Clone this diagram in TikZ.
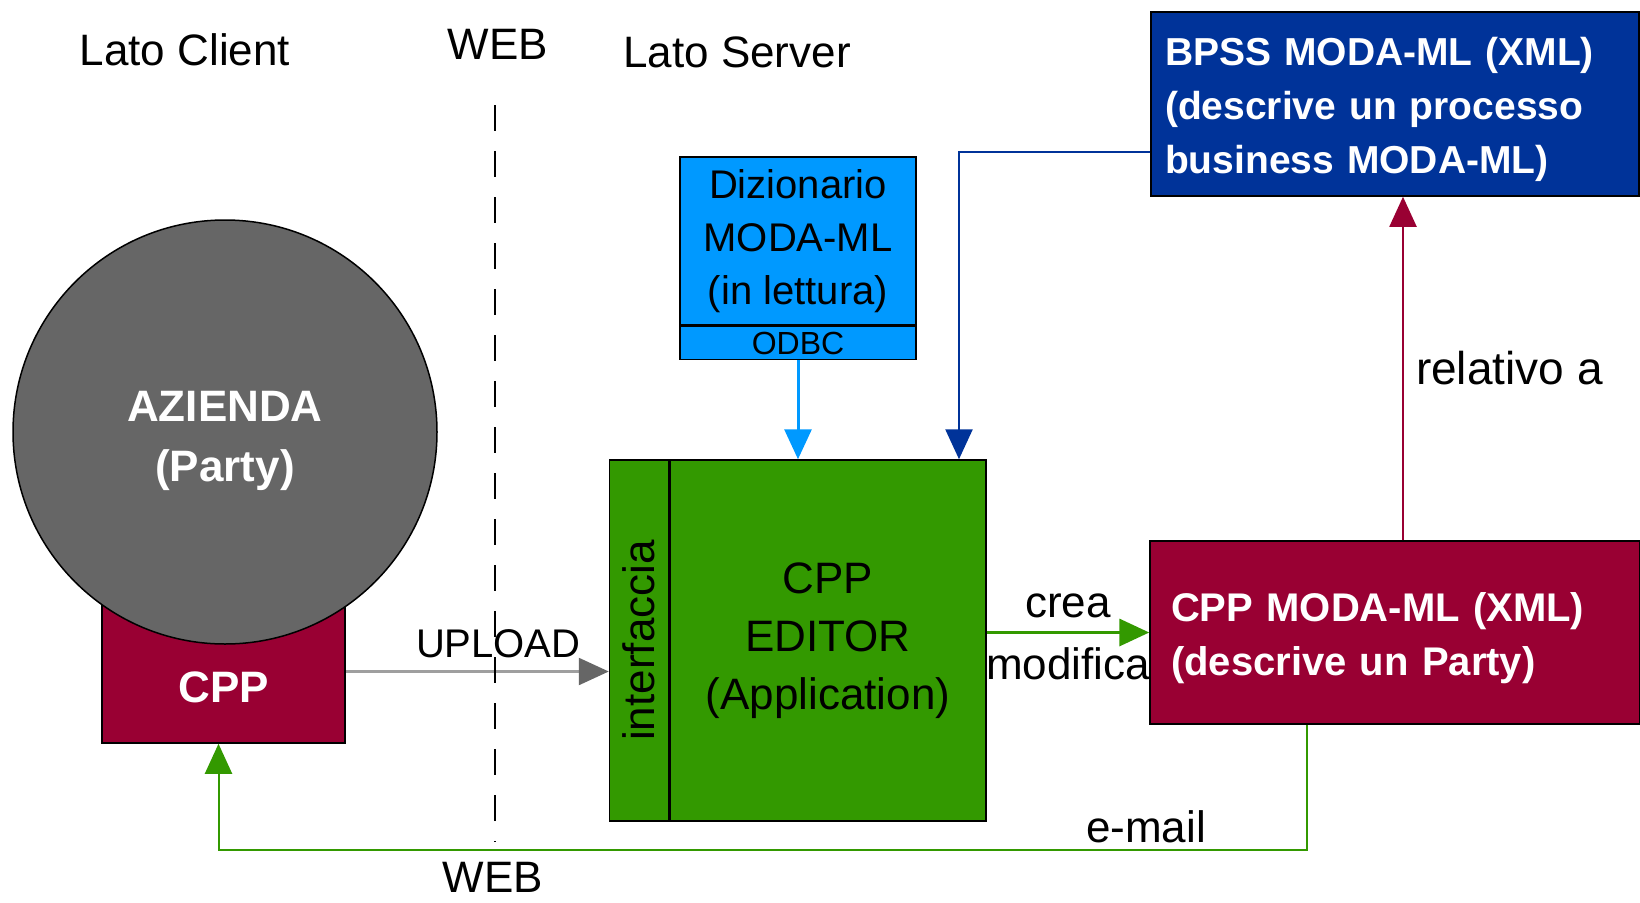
\documentclass[tikz,border=0pt]{standalone}
\usepackage{fontspec}
\setmainfont{Liberation Sans}
\usepackage{xcolor}
\usepackage{tikz}
\usetikzlibrary{positioning,calc,arrows.meta}
\definecolor{MLRed}{RGB}{153,0,51}
\definecolor{MLGreen}{RGB}{51,153,0}
\definecolor{MLBlue}{RGB}{0,51,153}
\definecolor{MLCyan}{RGB}{0,153,255}
\definecolor{MLGray}{RGB}{102,102,102}
\tikzset{
    boxnode/.style={rectangle, draw=black, line width=1.5pt, inner sep=0pt, align=center},
    whitetext/.style={text=white, font=\fontsize{44}{60}\selectfont\bfseries},
    plaintext/.style={text=black, font=\fontsize{44}{53}\selectfont, inner sep=2pt},
    link/.style={line width=2.5pt, -{Triangle[length=30pt,width=27pt]}}
}
\begin{document}
\begin{tikzpicture}[
        x=1pt, y=-1pt,
        % Stile per la linea WEB: tratteggiata, nera
        webline/.style={
            draw=black,
            line width=2pt,
            dash pattern=on 26pt off 20pt
        },
        % Stile per i riquadri a destra: testo bianco allineato a sinistra
        xmlbox/.style={
            boxnode,
            align=left,
            text=white
        }
    ]
    \useasboundingbox (0,0) rectangle (1640,902);
    \fill[white] (0,0) rectangle (1640,902);

        % --- TITOLI ---
        \node[plaintext] (client) at (185,50) {Lato Client};
        \node[plaintext] (webtop) at (498,44) {WEB};
        \node[plaintext] (server) at (737,52) {Lato Server};
        \node[plaintext] (webbot) at (493,877) {WEB};

        % --- LATO CLIENT ---
        % CPP (sotto il cerchio)
        \node[boxnode, fill=MLRed, minimum width=243pt, minimum height=143pt] (cpp) at (223.5,671.5) {};
        \node[whitetext] (cpptext) at ([yshift=-16pt]cpp.center) {CPP};
        % Azienda
        \node[circle, draw=black, line width=1.5pt, fill=MLGray, minimum size=424pt, whitetext, align=center] (azienda) at (225,432) {\rule{0pt}{48pt}AZIENDA\\(Party)};

        % --- LATO SERVER ---
        % Dizionario
        \node[boxnode, fill=MLCyan, minimum width=236pt, minimum height=168pt, font=\fontsize{40}{53}\selectfont] (diz) at (798,241) {Dizionario\\MODA-ML\\(in lettura)};
        \node[boxnode, fill=MLCyan, minimum width=236pt, minimum height=33pt, font=\fontsize{32}{32}\selectfont, below=0pt of diz] (odbc) {ODBC};
        % Editor
        \node[boxnode, fill=MLGreen, minimum width=316pt, minimum height=361pt, font=\fontsize{44}{58}\selectfont] (editor) at (828,640.5) {CPP\\EDITOR\\(Application)};
        \node[boxnode, fill=MLGreen, minimum width=59pt, minimum height=361pt, font=\fontsize{44}{53}\selectfont, left=0pt of editor] (intf) {\rotatebox{90}{interfaccia}};
        % Documenti XML
        \node[xmlbox, fill=MLBlue, minimum height=184pt, text width=460pt, inner xsep=14pt, font=\fontsize{39}{54}\selectfont\bfseries] (bpss) at (1395,104) {\rule{0pt}{40pt}BPSS MODA-ML (XML)\\(descrive un processo\\business MODA-ML)};
        \node[xmlbox, fill=MLRed, minimum height=183pt, text width=448pt, inner xsep=21pt, font=\fontsize{40}{54}\selectfont\bfseries] (cppml) at (1395,632.5) {\rule{0pt}{40pt}CPP MODA-ML (XML)\\(descrive un Party)};

        % --- FRECCE ---
        \draw[link, MLCyan, line width=3pt] (odbc.south) -- (odbc.south |- editor.north);
        \coordinate (bpssout) at (bpss.west |- 0,152);
        \draw[link, MLBlue] (bpssout) -| ([xshift=131pt]editor.north);
        \draw[link, gray!75, -{Triangle[length=30pt,width=27pt,color=MLGray]}] (cpp.east) -- node[plaintext, pos=0.58, yshift=28pt, font=\fontsize{40}{48}\selectfont] {UPLOAD} (cpp.east -| intf.west);
        \draw[link, MLGreen, line width=3.5pt] (editor.east |- cppml.west) -- node[plaintext, yshift=27pt] {crea} node[plaintext, yshift=-31pt] {modifica} (cppml.west);
        \draw[link, MLRed, line width=2pt] ([xshift=8pt]cppml.north) -- node[plaintext, right=10pt, font=\fontsize{46}{52}\selectfont] {relativo a} ([xshift=8pt]bpss.south);
        \draw[link, MLGreen, line width=2pt] ([xshift=-88pt]cppml.south) -- ++(0,125) -| node[plaintext, pos=0.074, yshift=23pt] {e-mail} ([xshift=-5pt]cpp.south);

        % --- LINEA WEB ---
        \coordinate (webup) at (495,105);
        \coordinate (webdown) at (495,842);
        \draw[webline] (webup) -- (webdown);

    \end{tikzpicture}
\end{document}
